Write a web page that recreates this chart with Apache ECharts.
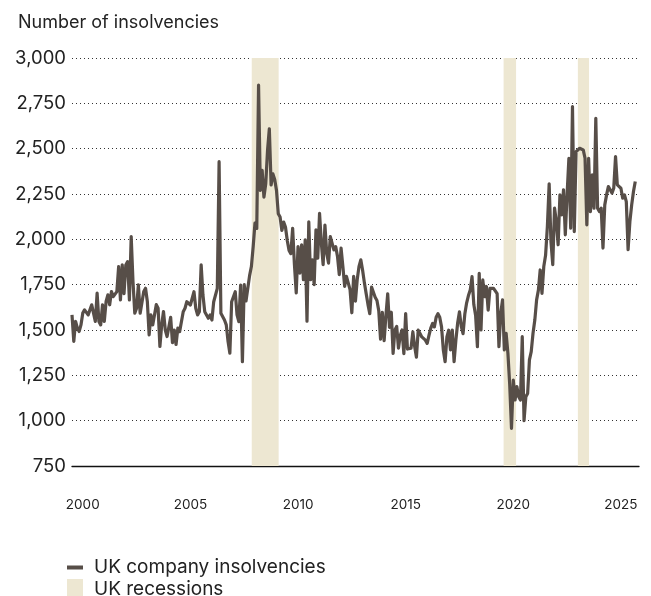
<!DOCTYPE html>
<html><head><meta charset="utf-8">
<script src="https://cdn.jsdelivr.net/npm/echarts@6/dist/echarts.min.js"></script>
<style>html,body{margin:0;padding:0;background:#fff}#c{width:651px;height:596px}</style>
</head><body><div id="c"></div>
<script>
// ---- data (monthly, first value = Jan 2000) ----
const startYear = 2000;
const insolvencies = [
 1583,1437,1547,1510,1492,1528,1593,1611,1602,1583,1611,1639,
 1650,1547,1703,1547,1528,1639,1547,1657,1694,1639,1712,1684,
 1694,1712,1850,1666,1859,1700,1859,1877,1666,2015,1767,1593,
 1620,1749,1593,1583,1712,1730,1657,1473,1583,1528,1528,1640,
 1620,1409,1528,1602,1500,1464,1470,1570,1430,1500,1420,1510,
 1491,1546,1601,1620,1656,1656,1638,1638,1711,1620,1583,1601,
 1859,1693,1601,1583,1565,1583,1555,1656,1656,1730,2428,1592,
 1583,1555,1528,1436,1372,1656,1656,1711,1583,1546,1748,1325,
 1750,1660,1730,1800,1850,1960,2090,2060,2850,2270,2380,2233,
 2306,2490,2609,2300,2361,2330,2270,2141,2123,2049,2095,2068,
 1994,1939,1921,2061,1860,1704,1960,1814,1970,1778,1997,1549,
 2097,1777,1887,1750,2052,1896,2143,1979,1860,2079,1924,1869,
 2015,2006,1942,1960,1906,1805,1951,1851,1741,1796,1787,1723,
 1595,1796,1659,1778,1851,1887,1830,1760,1700,1640,1590,1737,
 1737,1681,1663,1607,1450,1598,1441,1580,1700,1515,1598,1371,
 1500,1520,1400,1470,1500,1370,1590,1395,1400,1400,1490,1410,
 1350,1499,1481,1462,1462,1444,1426,1470,1510,1536,1517,1570,
 1590,1570,1517,1390,1325,1462,1499,1390,1499,1325,1444,1540,
 1600,1520,1480,1590,1650,1690,1720,1794,1640,1580,1408,1812,
 1500,1776,1684,1740,1610,1730,1720,1730,1720,1700,1408,1592,
 1666,1390,1482,1372,1200,958,1224,1114,1188,1132,1114,1463,
 1000,1132,1150,1335,1381,1482,1555,1666,1720,1831,1702,1850,
 1912,2070,2306,1988,1860,2172,2100,1970,2245,2135,2273,2025,
 2250,2447,2062,2732,2043,2484,2475,2502,2511,2493,2447,2080,
 2447,2153,2355,2172,2667,2172,2153,2172,1952,2190,2245,2291,
 2282,2255,2282,2456,2300,2300,2282,2227,2245,2208,1943,2098,
 2190,2264,2319
];
const xTickYears = [2000, 2005, 2010, 2015, 2020, 2025];
const yTicks = [750, 1000, 1250, 1500, 1750, 2000, 2250, 2500, 2750, 3000];
const recessionStart = [2008.35, 2020.05, 2023.5];
const recessionEnd = [2009.6, 2020.63, 2024.02];
const seriesNames = ['UK company insolvencies', 'UK recessions'];
const yTitle = 'Number of insolvencies';

// ---- chart ----
const FONT = 'Inter';
const lineData = insolvencies.map((v, i) => [startYear + i / 12, v]);
const chart = echarts.init(document.getElementById('c'), null, {renderer: 'canvas'});
chart.setOption({
  animation: false,
  backgroundColor: '#fff',
  title: {
    text: yTitle, left: 13, top: 9,
    textStyle: {fontFamily: FONT, fontSize: 18, fontWeight: 'normal', color: '#222'}
  },
  grid: {left: 72, right: 12, top: 58, bottom: 130, outerBoundsMode: 'none', containLabel: false},
  xAxis: {
    type: 'value', min: 2000, max: 2026.34,
    axisLine: {show: true, lineStyle: {color: '#111', width: 1.3}},
    axisTick: {show: false},
    splitLine: {show: false},
    axisLabel: {
      customValues: xTickYears.map(y => y + 0.5),
      formatter: v => String(Math.floor(v)),
      margin: 32, fontFamily: FONT, fontSize: 13.5, color: '#222'
    }
  },
  yAxis: {
    type: 'value', min: yTicks[0], max: yTicks[yTicks.length - 1], interval: 250,
    axisLine: {show: false}, axisTick: {show: false},
    axisLabel: {
      formatter: v => v.toLocaleString('en-US'),
      margin: 6, fontFamily: FONT, fontSize: 18.5, color: '#222'
    },
    splitLine: {show: true, lineStyle: {color: '#333', width: 1, type: [1, 3]}}
  },
  legend: [
    {
      data: [{name: seriesNames[0], icon: 'path://M0,0H16V4H0Z'}],
      left: 67, top: 558, itemWidth: 16, itemHeight: 20, selectedMode: false,
      padding: 0,
      textStyle: {fontFamily: FONT, fontSize: 19, color: '#222', padding: [0, 0, 0, 6]}
    },
    {
      data: [{name: seriesNames[1], icon: 'rect'}],
      left: 67, top: 579, itemWidth: 16, itemHeight: 20, selectedMode: false,
      padding: 0,
      textStyle: {fontFamily: FONT, fontSize: 19, color: '#222', padding: [0, 0, 0, 6]}
    }
  ],
  series: [
    {
      name: seriesNames[1], type: 'line', data: [],
      color: '#ede7d2', itemStyle: {color: '#ede7d2'}, lineStyle: {color: '#ede7d2'},
      z: 1,
      markArea: {
        silent: true,
        itemStyle: {color: '#ede7d2'},
        label: {show: false},
        data: recessionStart.map((s, i) => [{xAxis: s}, {xAxis: recessionEnd[i]}])
      }
    },
    {
      name: seriesNames[0], type: 'line', data: lineData,
      showSymbol: false, symbol: 'none',
      color: '#574e48', itemStyle: {color: '#574e48'},
      lineStyle: {color: '#574e48', width: 3.2, join: 'round'},
      z: 3
    }
  ]
});
</script></body></html>
